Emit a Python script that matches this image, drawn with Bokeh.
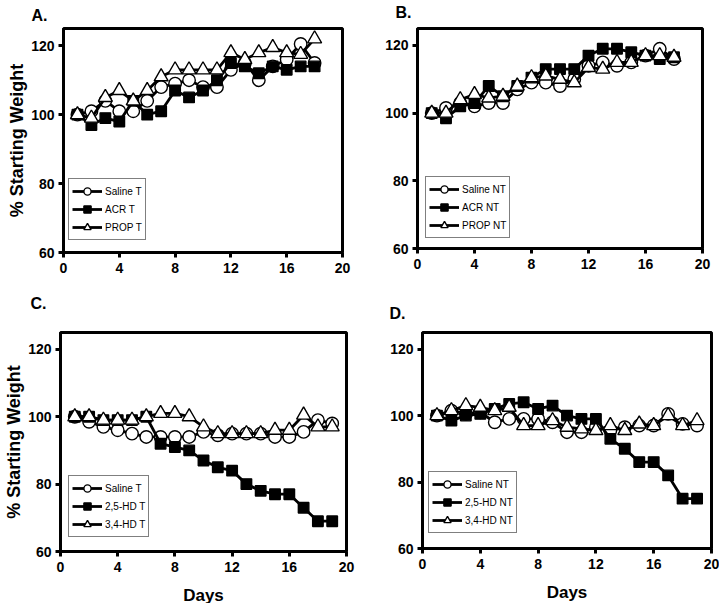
from bokeh.plotting import figure
from bokeh.layouts import column, row
from bokeh.models import Legend, LegendItem, FixedTicker, Range1d, Title
from bokeh.embed import file_html
from bokeh.resources import INLINE

FONT = "Liberation Sans"

# ---------------- data ----------------
days_top = list(range(1, 19))
days_bottom = list(range(1, 20))

# Panel A (T)
saline_T_A = [100, 101, 104, 101, 101, 104, 108, 109, 110, 108, 108, 113, 115, 110, 114, 116, 120.5, 115]
acr_T = [100, 97, 99, 98, 104, 100, 101, 107, 105, 107, 110, 115, 114, 112, 114, 113, 114, 114]
prop_T = [100, 99, 105, 107, 104, 107, 111, 113, 113, 113, 113, 118, 116, 118, 119.5, 118, 117.5, 122]

# Panel B (NT)
saline_NT_B = [100, 101.5, 103, 102, 103, 103, 107, 109, 109, 108, 110, 114, 115, 114, 115, 117, 119, 116]
acr_NT = [100, 98.5, 102, 103, 108, 105, 108, 110.5, 113, 113, 113, 117, 119, 119, 118, 117, 116, 116.5]
prop_NT = [100, 100, 104, 105.5, 104.5, 105, 108, 110.5, 111, 110, 109, 113.5, 113, 115, 115, 117, 117, 116.5]

# Panel C (T)
saline_T_C = [100, 98.5, 97, 96, 95, 94, 94, 94, 94, 95.5, 94.5, 95, 95, 95, 94, 94, 95.5, 99, 98]
hd25_T = [100, 100, 99, 99, 99, 100, 92, 91, 90, 87, 85, 84, 80, 78, 77, 77, 73, 69, 69]
hd34_T = [100, 100, 99, 99, 99, 100, 101, 101, 100, 97, 95, 95, 95, 95, 96, 96, 100.5, 97, 97]

# Panel D (NT)
saline_NT_D = [100, 101.5, 100.5, 101, 98, 99, 99, 99, 98, 95, 95, 96.5, 95.5, 96.5, 97, 97, 100.5, 97.5, 97]
hd25_NT = [100, 98.5, 100, 100.5, 102, 103.5, 104, 102, 103, 100, 99, 99, 93, 90, 86, 86, 82, 75, 75]
hd34_NT = [100, 101.5, 103, 102.5, 101.5, 102.5, 97, 97, 98.5, 96.5, 96, 95.5, 97, 95.5, 97.5, 97, 100, 97, 98.5]

labels_A = ["Saline T", "ACR T", "PROP T"]
labels_B = ["Saline NT", "ACR NT", "PROP NT"]
labels_C = ["Saline T", "2,5-HD T", "3,4-HD T"]
labels_D = ["Saline NT", "2,5-HD NT", "3,4-HD NT"]

x_ticks = [0, 4, 8, 12, 16, 20]
y_ticks = [60, 80, 100, 120]

MARKERS = [("circle", 12.5, "white"), ("square", 10.5, "black"), ("triangle", 14, "white")]


def make_panel(letter, letter_offset, letter_lift, days, series, labels,
               fw, fh, lb, rb, tb, bb, ylabel, xlabel, legend_loc):
    p = figure(frame_width=fw, frame_height=fh,
               min_border_left=lb, min_border_right=rb,
               min_border_top=tb, min_border_bottom=bb,
               x_range=Range1d(0, 20), y_range=Range1d(60, 125),
               output_backend="svg", toolbar_location=None)
    p.title = Title(text=letter, align="left", offset=letter_offset,
                    standoff=0, vertical_align="bottom",
                    padding=dict(left=0, right=0, top=0, bottom=letter_lift),
                    text_font=FONT, text_font_size="16px",
                    text_font_style="bold", text_color="black")
    p.grid.visible = False
    p.outline_line_color = "black"
    p.outline_line_width = 3
    p.background_fill_color = "white"
    p.border_fill_color = "white"

    p.xaxis.ticker = FixedTicker(ticks=x_ticks)
    p.yaxis.ticker = FixedTicker(ticks=y_ticks)
    for ax in (p.xaxis, p.yaxis):
        ax.axis_line_width = 3
        ax.axis_line_color = "black"
        ax.major_tick_line_width = 3
        ax.major_tick_line_color = "black"
        ax.major_tick_out = 5
        ax.major_tick_in = 0
        ax.minor_tick_out = 0
        ax.minor_tick_in = 0
        ax.major_label_text_font = FONT
        ax.major_label_text_font_size = "14px"
        ax.major_label_text_font_style = "bold"
        ax.major_label_text_color = "black"
        ax.axis_label_text_font = FONT
        ax.axis_label_text_font_style = "bold"
        ax.axis_label_text_color = "black"
    p.yaxis.major_label_standoff = 4
    p.xaxis.major_label_standoff = 5
    if ylabel:
        p.yaxis.axis_label = ylabel
        p.yaxis.axis_label_text_font_size = "18px"
        p.yaxis.axis_label_standoff = 1
    if xlabel:
        p.xaxis.axis_label = xlabel
        p.xaxis.axis_label_text_font_size = "17px"
        p.xaxis.axis_label_standoff = 11

    items = []
    for vals, lab, (mk, sz, fill) in zip(series, labels, MARKERS):
        lr = p.line(days, vals, line_color="black", line_width=2.8)
        sr = p.scatter(days, vals, marker=mk, size=sz, fill_color=fill,
                       line_color="black", line_width=1.4)
        items.append(LegendItem(label=lab, renderers=[lr, sr]))

    legend = Legend(items=items, location=legend_loc,
                    label_text_font=FONT, label_text_font_size="10px",
                    label_text_color="black",
                    glyph_width=30, glyph_height=18, label_height=14,
                    spacing=0, padding=3, margin=0, label_standoff=3,
                    border_line_color="black", border_line_width=1,
                    background_fill_color="white", background_fill_alpha=1)
    p.add_layout(legend)
    return p


pA = make_panel("A.", -32, 5, days_top, [saline_T_A, acr_T, prop_T], labels_A,
                279, 224, 63, 20, 28, 36, "% Starting Weight", None, (5, 12))
pB = make_panel("B.", -22, 8, days_top, [saline_NT_B, acr_NT, prop_NT], labels_B,
                285, 220, 55, 16, 28, 40, None, None, (8, 10))
pC = make_panel("C.", -30, 21, days_bottom, [saline_T_C, hd25_T, hd34_T], labels_C,
                286, 219, 60, 20, 40, 56, "% Starting Weight", "Days", (8, 14))
pD = make_panel("D.", -33, 11, days_bottom, [saline_NT_D, hd25_NT, hd34_NT], labels_D,
                289, 216, 56, 8, 44, 55, None, "Days", (6, 15))

layout = column(row(pA, pB), row(pC, pD))
open("out.html", "w").write(file_html(layout, INLINE))
